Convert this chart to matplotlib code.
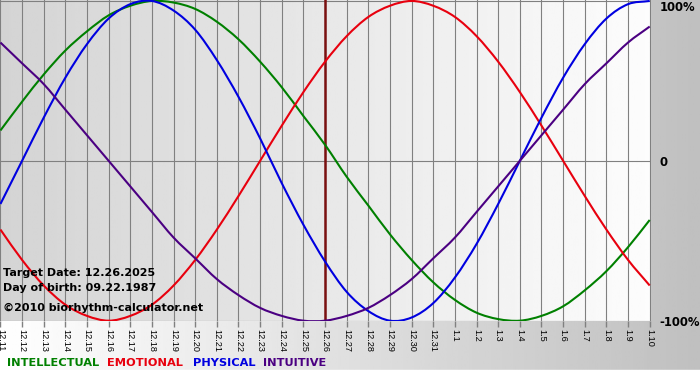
import numpy as np
import matplotlib.pyplot as plt
from matplotlib.path import Path
from matplotlib.patches import PathPatch

# ========== data ==========
day_labels = ['12.11', '12.12', '12.13', '12.14', '12.15', '12.16', '12.17', '12.18',
              '12.19', '12.20', '12.21', '12.22', '12.23', '12.24', '12.25', '12.26',
              '12.27', '12.28', '12.29', '12.30', '12.31', '1.1', '1.2', '1.3', '1.4',
              '1.5', '1.6', '1.7', '1.8', '1.9', '1.10']
target_label = '12.26'

intellectual = [0.19, 0.37, 0.54, 0.69, 0.81, 0.91, 0.97, 1.00, 0.99, 0.95, 0.87,
                0.76, 0.62, 0.46, 0.28, 0.10, -0.10, -0.28, -0.46, -0.62, -0.76,
                -0.87, -0.95, -0.99, -1.00, -0.97, -0.91, -0.81, -0.69, -0.54, -0.37]
emotional = [-0.43, -0.62, -0.78, -0.90, -0.97, -1.00, -0.97, -0.90, -0.78, -0.62,
             -0.43, -0.22, 0.00, 0.22, 0.43, 0.62, 0.78, 0.90, 0.97, 1.00, 0.97,
             0.90, 0.78, 0.62, 0.43, 0.22, 0.00, -0.22, -0.43, -0.62, -0.78]
physical = [-0.27, 0.00, 0.27, 0.52, 0.73, 0.89, 0.98, 1.00, 0.94, 0.82, 0.63,
            0.40, 0.14, -0.14, -0.40, -0.63, -0.82, -0.94, -1.00, -0.98, -0.89,
            -0.73, -0.52, -0.27, 0.00, 0.27, 0.52, 0.73, 0.89, 0.98, 1.00]
intuitive = [0.74, 0.61, 0.48, 0.32, 0.16, 0.00, -0.16, -0.32, -0.48, -0.61, -0.74,
             -0.84, -0.92, -0.97, -1.00, -1.00, -0.97, -0.92, -0.84, -0.74, -0.61,
             -0.48, -0.32, -0.16, 0.00, 0.16, 0.32, 0.48, 0.61, 0.74, 0.84]

series_names = ['INTELLECTUAL', 'EMOTIONAL', 'PHYSICAL', 'INTUITIVE']
series_colors = ['#008000', '#e8000e', '#0000e0', '#4b0082']
y_levels = [-1, 0, 1]
y_labels = ['-100%', '0', '100%']

info_lines = ['Target Date: 12.26.2025', 'Day of birth: 09.22.1987',
              '\u00a92010 biorhythm-calculator.net']

W, H = 700, 380
days = np.arange(len(day_labels))
target_idx = day_labels.index(target_label)


# smooth curve through the daily points (catmull-rom as cubic bezier segments)
def smooth_path(x, y):
    p = np.column_stack([x, y]).astype(float)
    ext = np.vstack([2 * p[0] - p[1], p, 2 * p[-1] - p[-2]])
    verts = [p[0]]
    codes = [Path.MOVETO]
    for i in range(1, len(ext) - 2):
        p0, p1, p2, p3 = ext[i - 1], ext[i], ext[i + 1], ext[i + 2]
        verts += [p1 + (p2 - p0) / 6, p2 - (p3 - p1) / 6, p2]
        codes += [Path.CURVE4] * 3
    return Path(verts, codes)


# ========== figure + background ==========
fig = plt.figure(figsize=(W / 100, H / 100), dpi=100)
bg = fig.add_axes([0, 0, 1, 1])
bg.imshow(np.linspace(1.0, 0.75, 256)[None, :], extent=[0, 1, 0, 1], aspect='auto',
          cmap='gray', vmin=0, vmax=1)
bg.axhspan(0, 10 / H, color='white')
bg.set_xlim(0, 1)
bg.set_ylim(0, 1)
bg.axis('off')

# plot area: x 0..651 px, y 0..321 px
ax = fig.add_axes([0, 1 - 321 / H, 651 / W, 321 / H])
xlim = (-0.02, 30.06)
ylim = (-1.002, 1.006)
ax.imshow(np.linspace(0.83, 0.99, 256)[None, :], extent=[*xlim, *ylim], aspect='auto',
          cmap='gray', vmin=0, vmax=1, zorder=0)
ax.set_xlim(*xlim)
ax.set_ylim(*ylim)

for s in ax.spines.values():
    s.set_visible(False)

ax.set_xticks(days)
ax.set_xticklabels(day_labels, rotation=270, fontsize=6.6, family='Liberation Sans',
                   color='black')
ax.tick_params(axis='x', length=4, width=1, color='#808080', pad=1.5)
ax.yaxis.tick_right()
ax.set_yticks(y_levels)
ax.set_yticklabels(y_labels, fontsize=8.4, fontweight='bold')
ax.tick_params(axis='y', length=0, pad=6)
for lbl in ax.get_yticklabels():
    lbl.set_va('top' if lbl.get_text() == '100%' else 'center_baseline')
ax.grid(True, color='#808080', lw=0.8, zorder=1)
ax.set_axisbelow(True)

# target date line
ax.axvline(target_idx, color='#7a1010', lw=1.8, zorder=2)

# ========== curves ==========
for vals, c in zip([intellectual, emotional, physical, intuitive], series_colors):
    ax.add_patch(PathPatch(smooth_path(days, vals), facecolor='none', edgecolor=c,
                           lw=1.5, zorder=3))

# ========== texts ==========
for txt, yb in zip(info_lines, [276, 291, 311]):
    fig.text(3 / W, 1 - yb / H, txt, fontsize=8, fontweight='bold', va='baseline',
             ha='left', color='black')

for name, c, x0 in zip(series_names, series_colors, [7, 107, 193, 263]):
    fig.text(x0 / W, 1 - 366 / H, name, fontsize=8.2, fontweight='bold',
             va='baseline', ha='left', color=c)

plt.savefig('out.png', dpi=100)
